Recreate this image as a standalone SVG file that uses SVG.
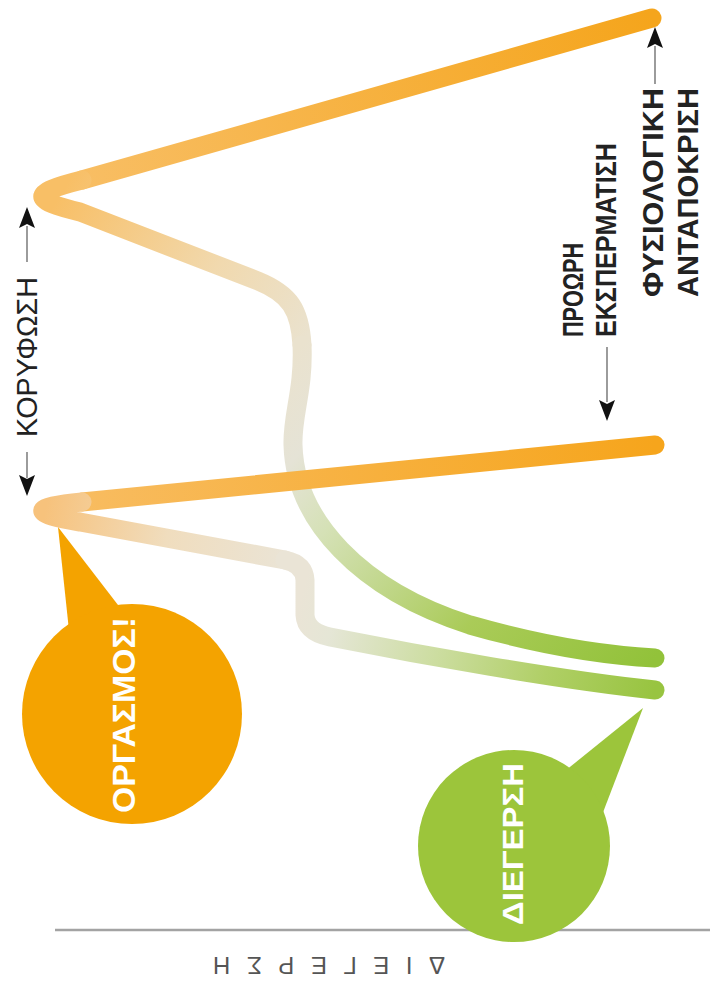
<svg xmlns="http://www.w3.org/2000/svg" width="710" height="989" viewBox="0 0 710 989">
<style>
.ln{fill:none;stroke-width:19;stroke-linecap:round;stroke-linejoin:round}
.lbl{font-family:"Liberation Sans",Arial,sans-serif;fill:#222}
.b{font-weight:bold}
.wt{font-family:"Liberation Sans",Arial,sans-serif;font-weight:bold;fill:#fff}
.arr{stroke:#666;stroke-width:1.3}
.hd{fill:#111}
</style>
<defs>
<linearGradient id="g1a" gradientUnits="userSpaceOnUse" x1="652" y1="18" x2="80" y2="181"><stop offset="0" stop-color="#F5A51C"/><stop offset="1" stop-color="#F8BE64"/></linearGradient>
<linearGradient id="g1b" gradientUnits="userSpaceOnUse" x1="60" y1="195" x2="302" y2="345"><stop offset="0" stop-color="#F8BF66"/><stop offset="0.6" stop-color="#F1D9AE"/><stop offset="1" stop-color="#EAE2CE"/></linearGradient>
<linearGradient id="g1c" gradientUnits="userSpaceOnUse" x1="300" y1="345" x2="655" y2="658"><stop offset="0" stop-color="#EAE2CE"/><stop offset="0.15" stop-color="#E5E3D6"/><stop offset="0.3" stop-color="#D5E1B6"/><stop offset="0.45" stop-color="#C3D890"/><stop offset="0.66" stop-color="#AACB58"/><stop offset="1" stop-color="#92C23A"/></linearGradient>
<linearGradient id="g2a" gradientUnits="userSpaceOnUse" x1="655" y1="445" x2="80" y2="503"><stop offset="0" stop-color="#F6A51C"/><stop offset="1" stop-color="#F8BC60"/></linearGradient>
<linearGradient id="g2b" gradientUnits="userSpaceOnUse" x1="45" y1="510" x2="290" y2="560"><stop offset="0" stop-color="#F7C27C"/><stop offset="0.5" stop-color="#F0DDBE"/><stop offset="1" stop-color="#EAE4D6"/></linearGradient>
<linearGradient id="g2c" gradientUnits="userSpaceOnUse" x1="300" y1="600" x2="655" y2="690"><stop offset="0" stop-color="#EAE4D6"/><stop offset="0.1" stop-color="#E5E6D6"/><stop offset="0.4" stop-color="#CCDDA0"/><stop offset="0.7" stop-color="#B0CF66"/><stop offset="1" stop-color="#98C440"/></linearGradient>
</defs>

<line id="axis" x1="55" y1="930" x2="710" y2="930" stroke="#A3A3A3" stroke-width="2.5"/>

<g id="connectors">
  <g id="curve-physiological">
    <path class="ln" stroke="url(#g1a)" d="M652,18 L82,180"/>
    <path class="ln" stroke="url(#g1b)" d="M82,180 C30,193 30,200 80,212 L258,281 C290,294 300,310 302,345"/>
    <path class="ln" stroke="url(#g1c)" d="M302,345 C304,390 292,415 293,445 C295,520 360,590 470,625 C540,645 600,655 655,658"/>
  </g>
  <g id="curve-premature">
    <path class="ln" stroke="url(#g2a)" d="M655,445 L82,502"/>
    <path class="ln" stroke="url(#g2b)" d="M82,502 C30,507 30,514 80,522 L285,560"/>
    <path class="ln" stroke="url(#g2c)" d="M285,560 Q304,564 305,580 L305,615 Q306,632 330,637 C420,655 560,680 655,690"/>
  </g>
  <g id="arrow-koryfosi">
    <line class="arr" x1="27" y1="226" x2="27" y2="262"/>
    <path class="hd" d="M27,207 L35,228 L27,224 L19,228 Z"/>
    <line class="arr" x1="27" y1="452" x2="27" y2="478"/>
    <path class="hd" d="M27,496 L35,475 L27,479 L19,475 Z"/>
  </g>
  <g id="arrow-proori">
    <line class="arr" x1="607" y1="347" x2="607" y2="402"/>
    <path class="hd" d="M607,421 L615,400 L607,404 L599,400 Z"/>
  </g>
  <g id="arrow-fysiologiki">
    <line class="arr" x1="655" y1="46" x2="655" y2="84"/>
    <path class="hd" d="M655,27 L663,48 L655,44 L647,48 Z"/>
  </g>
</g>

<g id="label-koryfosi">
  <text class="lbl" font-size="29" text-anchor="middle" textLength="160" lengthAdjust="spacingAndGlyphs" transform="translate(37,357) rotate(-90)" fill="#333">ΚΟΡΥΦΩΣΗ</text>
</g>
<g id="label-proori">
  <text class="lbl b" font-size="29" textLength="94" lengthAdjust="spacingAndGlyphs" transform="translate(583,337) rotate(-90)">ΠΡΟΩΡΗ</text>
  <text class="lbl b" font-size="29" textLength="194" lengthAdjust="spacingAndGlyphs" transform="translate(616,337) rotate(-90)">ΕΚΣΠΕΡΜΑΤΙΣΗ</text>
</g>
<g id="label-fysiologiki">
  <text class="lbl b" font-size="29" textLength="209" lengthAdjust="spacingAndGlyphs" transform="translate(663,297) rotate(-90)">ΦΥΣΙΟΛΟΓΙΚΗ</text>
  <text class="lbl b" font-size="29" textLength="209" lengthAdjust="spacingAndGlyphs" transform="translate(698,297) rotate(-90)">ΑΝΤΑΠΟΚΡΙΣΗ</text>
</g>

<g id="bubble-orgasmos">
  <polygon points="58,527 70,640 128,618" fill="#F4A300"/>
  <circle cx="132" cy="714" r="110" fill="#F4A300"/>
  <text class="wt" font-size="32" text-anchor="middle" textLength="196" lengthAdjust="spacingAndGlyphs" transform="translate(135,715) rotate(-90)">ΟΡΓΑΣΜΟΣ!</text>
</g>

<g id="bubble-diegersi">
  <polygon points="643,708 560,775 602,815" fill="#9CC53B"/>
  <circle cx="514" cy="846" r="96" fill="#9CC53B"/>
  <text class="wt" font-size="29" text-anchor="middle" textLength="162" lengthAdjust="spacingAndGlyphs" transform="translate(523,844) rotate(-90)">ΔΙΕΓΕΡΣΗ</text>
</g>

<g id="axis-label">
  <text font-family="'Liberation Sans',Arial,sans-serif" font-size="24" fill="#555" text-anchor="middle" textLength="232" lengthAdjust="spacing" transform="rotate(180,329,966)" x="329" y="975">ΔΙΕΓΕΡΣΗ</text>
</g>
</svg>
